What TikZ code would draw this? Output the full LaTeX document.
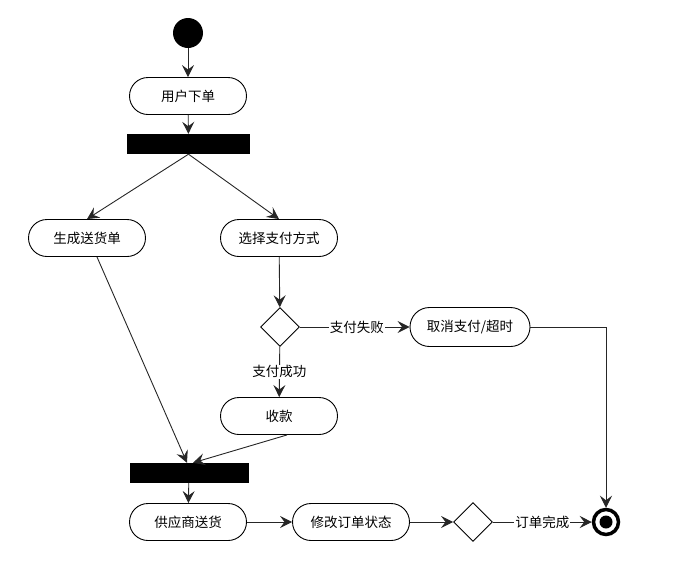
\documentclass[tikz,border=0pt]{standalone}
\usepackage{fontspec}
\setmainfont{Noto Sans CJK SC}
\usetikzlibrary{arrows.meta,shapes.geometric,positioning}

\tikzset{
  activity/.style={draw, rounded corners=18.5pt, minimum width=117pt, minimum height=37pt, line width=0.9pt, inner sep=0pt},
  forkbar/.style={fill=black, minimum width=123pt, minimum height=20pt, inner sep=0pt},
  choice/.style={draw, diamond, minimum width=39pt, minimum height=39pt, inner sep=0pt, line width=0.9pt},
  flow/.style={-{Stealth[length=12pt,width=12pt,inset=4.5pt]}, line width=0.9pt, draw=black!85},
  guard/.style={fill=white, inner sep=1pt}
}

\begin{document}
\begin{tikzpicture}[x=1pt, y=-1pt, font=\fontsize{13.5}{15}\selectfont]
  \useasboundingbox (0,0) rectangle (689,574);
  % nodes
  \node[circle, fill=black, minimum size=30pt, inner sep=0pt] (start) at (188,33) {};
  \node[activity] (order) at (188,96) {用户下单};
  \node[forkbar] (fork) at (188.5,144) {};
  \node[activity] (ship) at (87,238) {生成送货单};
  \node[activity] (pay) at (279,238) {选择支付方式};
  \node[choice] (paycheck) at (280,327) {};
  \node[activity, minimum width=120pt, minimum height=39pt, rounded corners=19.5pt] (cancel) at (470,327) {取消支付/超时};
  \node[activity] (collect) at (279,416) {收款};
  \node[forkbar, minimum width=119pt] (join) at (189,473) {};
  \node[activity] (deliver) at (188,522) {供应商送货};
  \node[activity] (update) at (351,522) {修改订单状态};
  \node[choice] (done) at (473,522) {};
  \node[circle, draw, line width=3.5pt, minimum size=25pt, inner sep=0pt] (finish) at (606,522) {};
  \fill (finish.center) circle (6.5pt);
  % connectors
  \draw[flow] (start) -- (order);
  \draw[flow] (order) -- (fork);
  \draw[flow] (fork.south) -- (ship.north);
  \draw[flow] (fork.south) -- (pay.north);
  \draw[flow] (pay) -- (paycheck);
  \draw[flow] (paycheck) -- node[guard, pos=0.52] {支付失败} (cancel);
  \draw[flow] (paycheck) -- node[guard] {支付成功} (collect);
  \draw[flow] (cancel.east) -| (finish.north);
  \draw[flow] ([xshift=10pt]ship.south) -- ([xshift=-2pt]join.north);
  \draw[flow] ([xshift=8pt]collect.south) -- ([xshift=4pt]join.north);
  \draw[flow] (join) -- (deliver);
  \draw[flow] (deliver) -- (update);
  \draw[flow] (update) -- (done);
  \draw[flow] (done) -- node[guard] {订单完成} (finish);
\end{tikzpicture}
\end{document}
